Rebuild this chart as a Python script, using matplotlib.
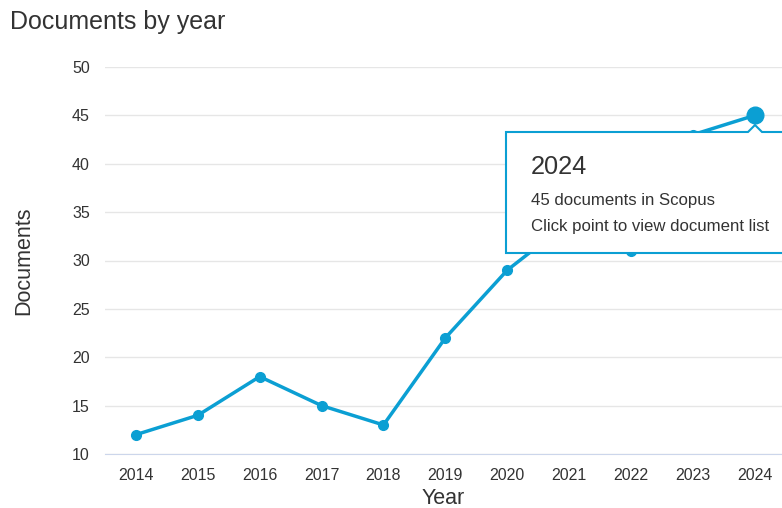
import matplotlib
matplotlib.use("Agg")
import matplotlib.pyplot as plt
from matplotlib.patches import Polygon

plt.rcParams['font.family'] = ['Liberation Sans', 'DejaVu Sans']

years = [2014, 2015, 2016, 2017, 2018, 2019, 2020, 2021, 2022, 2023, 2024]
documents = [12, 14, 18, 15, 13, 22, 29, 34, 31, 43, 45]
yticks = [10, 15, 20, 25, 30, 35, 40, 45, 50]

line_color = '#0b9fd3'
text_color = '#333333'

W, H = 782, 508
fig = plt.figure(figsize=(W / 100, H / 100), dpi=100)
ax = fig.add_axes([105 / W, (H - 454) / H, 1 - 105 / W, (454 - 67) / H])

ax.plot(years, documents, color=line_color, lw=2.5, marker='o', ms=7, zorder=3)
ax.plot(years[-1:], documents[-1:], color=line_color, marker='o', ms=12, zorder=4)

ax.set_xlim(2013.5, 2024.44)
ax.set_ylim(10, 50)
ax.set_xticks(years)
ax.set_yticks(yticks)
ax.tick_params(length=0, labelsize=11.5, labelcolor=text_color, pad=10)
ax.tick_params(axis='y', pad=11)
ax.grid(axis='y', color='#e6e6e6', lw=1)
ax.set_axisbelow(True)
for s in ['top', 'right', 'left']:
    ax.spines[s].set_visible(False)
ax.spines['bottom'].set_color('#ccd6eb')
ax.set_xlabel('Year', fontsize=15.5, color=text_color, labelpad=4)
ax.set_ylabel('Documents', fontsize=15.5, color=text_color, labelpad=27)

fig.text(10 / W, 1 - 22 / H, 'Documents by year', fontsize=18, color=text_color,
         va='center', ha='left')

# tooltip
def px(x, y):
    return (x / W, 1 - y / H)

outline = [px(506, 253), px(506, 132), px(748, 132), px(755, 125), px(762, 132),
           px(800, 132), px(800, 253)]
fig.patches.append(Polygon(outline, closed=True, transform=fig.transFigure,
                           facecolor='white', edgecolor=line_color, lw=1.5, zorder=10))
fig.text(*px(531, 167), '2024', fontsize=18.3, color=text_color, va='center', zorder=11)
fig.text(*px(531, 201), '45 documents in Scopus', fontsize=12.1, color=text_color,
         va='center', zorder=11)
fig.text(*px(531, 227), 'Click point to view document list', fontsize=12.1,
         color=text_color, va='center', zorder=11)

fig.savefig('out.png', dpi=100)
